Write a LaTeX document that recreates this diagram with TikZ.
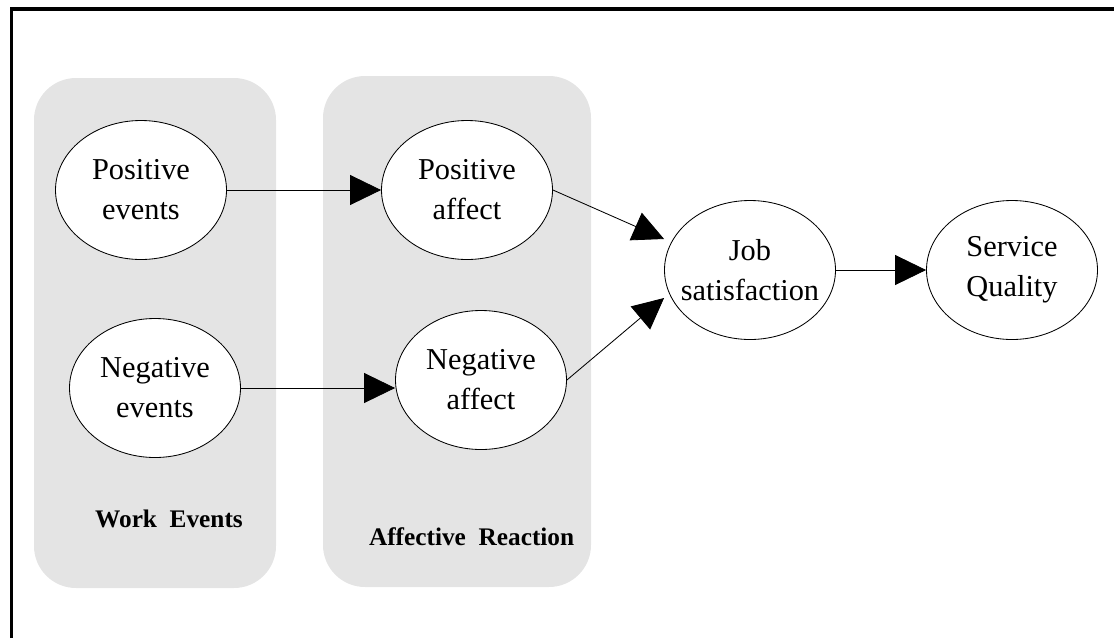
\documentclass[tikz,border=0pt]{standalone}
\usepackage{fontspec}
\setmainfont{Liberation Serif}
\usetikzlibrary{shapes.geometric,arrows.meta}
\definecolor{boxgray}{RGB}{228,228,228}

\begin{document}
\begin{tikzpicture}[%
    oval/.style={ellipse,draw,fill=white,line width=0.6pt,minimum width=4.275cm,minimum height=3.475cm,inner xsep=-8pt,inner ysep=0pt,align=center,font=\fontsize{21.6}{28.4}\selectfont},
    grp/.style={fill=boxgray,rounded corners=1.05cm},
    arr/.style={-{Triangle[length=0.775cm,width=0.75cm]},line width=0.6pt},
    lbl/.style={font=\fontsize{18}{22}\selectfont\bfseries}
  ]
		\useasboundingbox (0,0) rectangle (27.85,-15.95);
		\draw[line width=2.4pt] (0.29,-15.95) |- (27.85,-0.225);

		\fill[grp] (0.85,-1.95) rectangle (6.9,-14.7);
		\fill[grp] (8.075,-1.9) rectangle (14.775,-14.675);
		\node at (4.225,-12.975) [lbl] (we) {Work\enspace Events};
		\node at (11.79,-13.425) [lbl] (ar) {Affective\enspace Reaction};

		\node at (25.3,-6.75) [oval] (sq) {Service\\Quality};
		\node at (18.75,-6.75) [oval] (js) {Job\\satisfaction}
			edge[arr] (sq);

		\node at (11.675,-4.75) [oval] (pa) {Positive\\affect};
		\node at (12.025,-9.5) [oval] (na) {Negative\\affect};

		\node at (3.525,-4.75) [oval] (pe) {Positive\\events}
			edge[arr] (pa);
		\node at (3.875,-9.7) [oval] (ne) {Negative\\events}
			edge[arr] (ne.east -| na.west);

		\draw[arr] (pa.east) -- ([yshift=0.775cm]js.west);
		\draw[arr] (na.east) -- ([yshift=-0.7cm]js.west);
	\end{tikzpicture}
\end{document}
